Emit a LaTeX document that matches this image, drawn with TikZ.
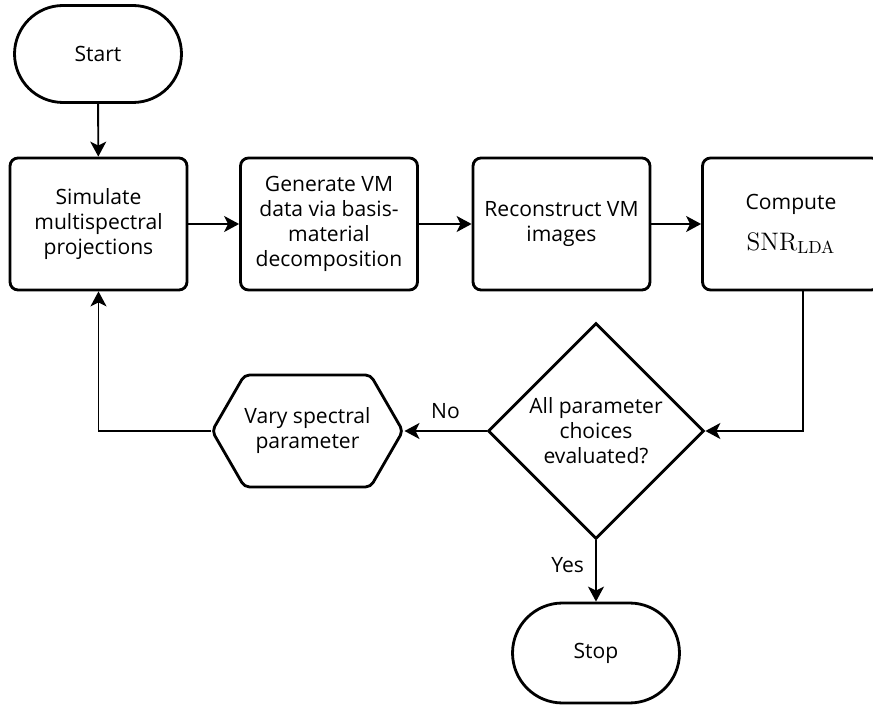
\documentclass[tikz,border=0pt]{standalone}
\usepackage[no-math]{fontspec}
\setmainfont{Open Sans}
\usepackage{tikz}
\usetikzlibrary{shapes.geometric,shapes.misc,shapes.symbols,arrows.meta}

\tikzset{
    terminal/.style={draw, line width=1.6pt, rounded rectangle, minimum width=3.34cm, minimum height=1.94cm, inner sep=0pt},
    process/.style={draw, line width=1.6pt, rounded corners=0.16cm, minimum width=3.54cm, minimum height=2.64cm, align=center, inner sep=0pt},
    decision/.style={draw, line width=1.6pt, diamond, aspect=1, minimum size=4.32cm, align=center, inner sep=0pt},
    prepare/.style={draw, line width=1.6pt, signal, signal to=west and east, signal pointer angle=120, rounded corners=0.1cm, minimum width=3.62cm, minimum height=2.24cm, align=center, inner sep=0pt},
    flow/.style={line width=1.1pt, -{Stealth[length=0.3cm, width=0.32cm, inset=0.08cm]}}
}

\begin{document}
\begin{tikzpicture}[x=0.02cm, y=-0.02cm, font=\fontsize{12}{14.2}\selectfont]
    \useasboundingbox (0,0) rectangle (873,705);

    % Terminals
    \node[terminal] (start) at (98,54) {Start};
    \node[terminal, minimum height=2cm] (stop) at (596,653) {Stop};

    % Process chain
    \node[process] (simulate) at (98.5,224) {Simulate\\multispectral\\projections};
    \node[process] (generate) at (329,224) {Generate VM\\data via basis-\\material\\decomposition};
    \node[process] (reconstruct) at (561.5,224) {Reconstruct VM\\images};
    \node[process] (compute) at (791,224) {Compute\\[9pt]{\fontsize{14.4}{17}\selectfont$\mathrm{SNR}_{\mathrm{LDA}}$}};

    % Decision and loop
    \node[decision] (check) at (596,431) {All parameter\\choices\\evaluated?};
    \node[prepare] (vary) at (307.5,431) {Vary spectral\\parameter};

    % Connectors
    \draw[flow] (start) -- (simulate);
    \draw[flow] (simulate) -- (generate);
    \draw[flow] (generate) -- (reconstruct);
    \draw[flow] (reconstruct) -- (compute);
    \draw[flow] ([xshift=0.24cm]compute.south) |- (check.east);
    \draw[flow] (check.west) -- node[above=3pt] {No} (vary.east);
    \draw[flow] (check.south) -- node[left=3pt, pos=0.4] {Yes} (stop.north);
    \draw[flow] (vary.west) -| (simulate.south);
\end{tikzpicture}
\end{document}
